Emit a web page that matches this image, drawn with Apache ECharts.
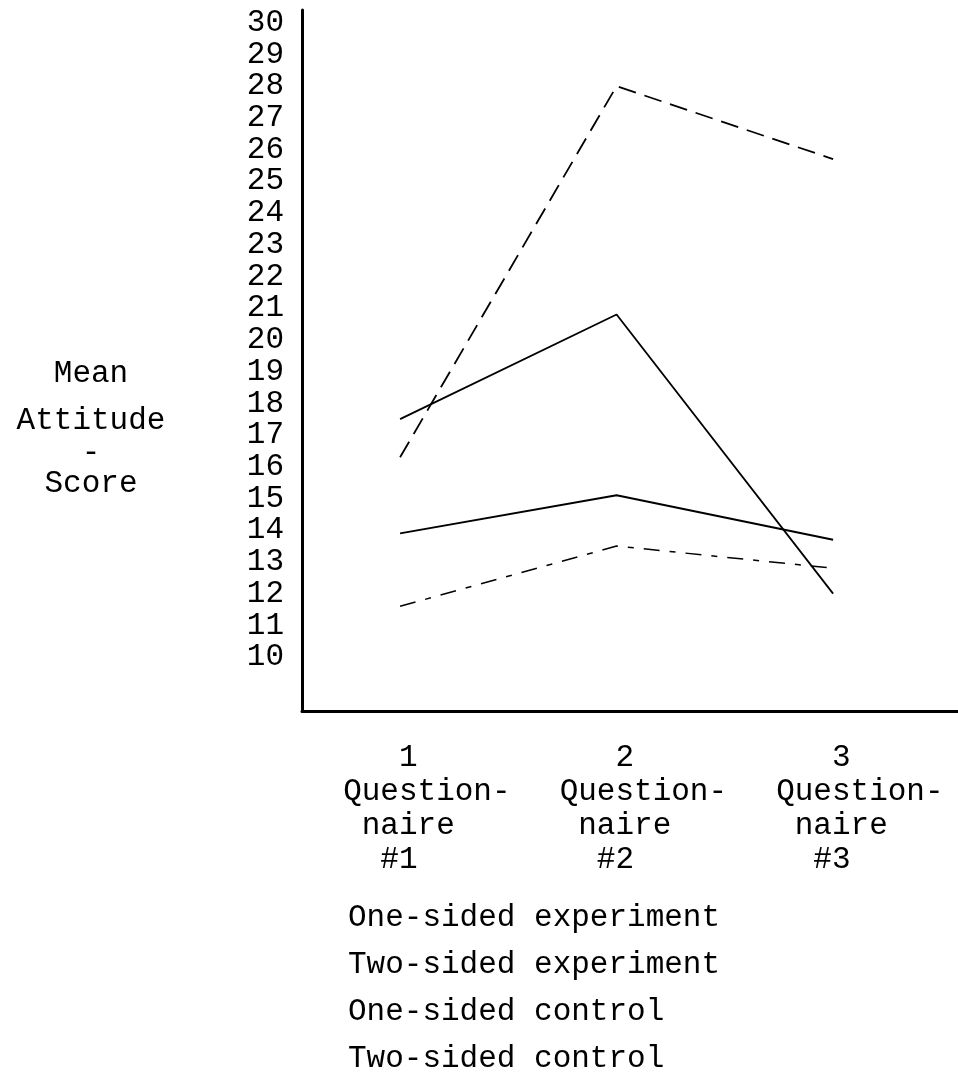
<!DOCTYPE html>
<html>
<head>
<meta charset="utf-8">
<script src="https://cdn.jsdelivr.net/npm/echarts@6/dist/echarts.min.js"></script>
<style>
  html, body { margin: 0; padding: 0; background: #fff; }
  #tuxing { width: 958px; height: 1077px; }
</style>
</head>
<body>
<div id="tuxing"></div>
<script>
// questionnaire positions on the x axis
var questionnaires = [1, 2, 3];
// typed labels, indented with spaces like the typewriter layout
var xLabels = [
	'   1\nQuestion-\n naire\n  #1',
	'   2\nQuestion-\n naire\n  #2',
	'   3\nQuestion-\n naire\n  #3'
];
var yTicks = [10, 11, 12, 13, 14, 15, 16, 17, 18, 19, 20, 21, 22, 23, 24, 25, 26, 27, 28, 29, 30];

// mean attitude scores
var oneSidedExp = [17.5, 20.8, 12.0];
var twoSidedExp = [16.3, 28.0, 25.7];
var oneSidedCtl = [13.9, 15.1, 13.7];
var twoSidedCtl = [11.6, 13.5, 12.8];

var FONT = '"Liberation Mono", "DejaVu Sans Mono", monospace';
var FS = 31;
// labels are typed a bit left of each data point (left edge of "Question-")
var LABEL_SHIFT = 0.263;

var myChart = echarts.init(document.getElementById('tuxing'));

function pairs(vals) {
	return questionnaires.map(function(q, i) {
		return [q, vals[i]];
	});
}

function lineSeries(name, vals, type, width) {
	return {
		name: name,
		type: 'line',
		data: pairs(vals),
		symbol: 'none',
		silent: true,
		lineStyle: {
			color: '#000',
			width: width,
			type: type
		}
	};
}

var labelAt = questionnaires.map(function(q) {
	return q - LABEL_SHIFT;
});

var option = {
	animation: false,
	backgroundColor: '#fff',
	textStyle: { fontFamily: FONT, color: '#000' },
	grid: {
		left: 302,
		right: 0,
		top: 10,
		bottom: 366
	},
	// y axis title, typed as separate lines
	graphic: [{
		type: 'text',
		x: 91,
		y: 350,
		style: {
			text: '{a|Mean}\n{b|Attitude}\n{c|-}\n{d|Score}',
			align: 'center',
			verticalAlign: 'top',
			font: FS + 'px ' + FONT,
			fill: '#000',
			rich: {
				a: { fontFamily: FONT, fontSize: FS, lineHeight: 47 },
				b: { fontFamily: FONT, fontSize: FS, lineHeight: 47 },
				c: { fontFamily: FONT, fontSize: FS, lineHeight: 17 },
				d: { fontFamily: FONT, fontSize: FS, lineHeight: 45 }
			}
		}
	}],
	legend: {
		orient: 'vertical',
		left: 343,
		top: 902,
		padding: 0,
		icon: 'none',
		itemWidth: 0,
		itemGap: 16,
		selectedMode: false,
		textStyle: { fontFamily: FONT, fontSize: FS, color: '#000' },
		data: ['One-sided experiment', 'Two-sided experiment', 'One-sided control', 'Two-sided control']
	},
	xAxis: {
		type: 'value',
		min: 0.547,
		max: 3.577,
		splitLine: { show: false },
		axisTick: { show: false },
		axisLine: { lineStyle: { color: '#000', width: 3 } },
		axisLabel: {
			customValues: labelAt,
			hideOverlap: false,
			margin: 30,
			fontFamily: FONT,
			fontSize: FS,
			lineHeight: 34,
			color: '#000',
			align: 'left',
			formatter: function(v) {
				var i = Math.round(v + LABEL_SHIFT) - 1;
				return xLabels[i] || '';
			}
		}
	},
	yAxis: {
		type: 'value',
		min: 8.3,
		max: 30.4,
		splitLine: { show: false },
		axisTick: { show: false },
		axisLine: { lineStyle: { color: '#000', width: 3 } },
		axisLabel: {
			customValues: yTicks,
			margin: 18,
			fontFamily: FONT,
			fontSize: FS,
			color: '#000'
		}
	},
	series: [
		lineSeries('One-sided experiment', oneSidedExp, 'solid', 1.8),
		lineSeries('Two-sided experiment', twoSidedExp, [18, 9], 1.8),
		lineSeries('One-sided control', oneSidedCtl, 'solid', 2),
		lineSeries('Two-sided control', twoSidedCtl, [16, 10, 6, 10], 1.5)
	]
};

myChart.setOption(option);
</script>
</body>
</html>
